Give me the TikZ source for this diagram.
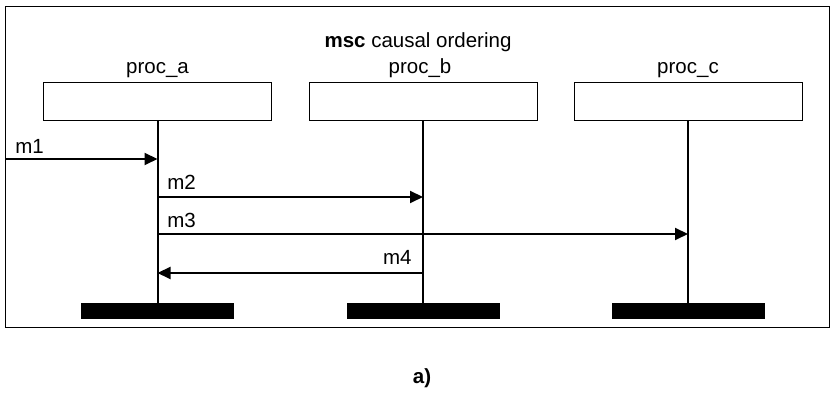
\documentclass[tikz,border=0pt]{standalone}
\usepackage{fontspec}
\setmainfont{Liberation Sans}
\usetikzlibrary{arrows.meta}

\tikzset{
	inst/.style={draw, line width=0.5pt, minimum width=114pt, minimum height=19pt, inner sep=0pt},
	endbar/.style={fill=black, minimum width=76.5pt, minimum height=8pt, inner sep=0pt},
	life/.style={line width=1pt},
	msg/.style={line width=1pt, -{Triangle[length=6.5pt,width=6pt]}},
	lbl/.style={inner sep=0pt}
}

\begin{document}
\begin{tikzpicture}[x=0.5pt, y=-0.5pt, font=\fontsize{10.25}{12}\selectfont]
	\useasboundingbox (0,0) rectangle (831,394);

		% frame
		\draw[line width=0.5pt] (5,7) rectangle (829,328);
		\node[lbl, anchor=base] (title) at (418,48) {\textbf{msc} causal ordering};

		% instances
		\node[inst] (pa) at (157.5,102) {};
		\node[inst] (pb) at (423,102) {};
		\node[inst] (pc) at (688,102) {};
		\node[lbl, anchor=base] (na) at (157.5,74) {proc\_a};
		\node[lbl, anchor=base] (nb) at (420,74) {proc\_b};
		\node[lbl, anchor=base] (nc) at (688,74) {proc\_c};

		% end bars
		\node[endbar] (ea) at (157.5,311) {};
		\node[endbar] (eb) at (423,311) {};
		\node[endbar] (ec) at (688,311) {};

		% lifelines
		\draw[life] (pa.south) -- (ea.north);
		\draw[life] (pb.south) -- (eb.north);
		\draw[life] (pc.south) -- (ec.north);

		% messages
		\coordinate (env) at (5,159);
		\coordinate (y2) at (0,197);
		\coordinate (y3) at (0,234);
		\coordinate (y4) at (0,273);
		\draw[msg] (env) -- (pa.south |- env);
		\draw[msg] (pa.south |- y2) -- (pb.south |- y2);
		\draw[msg] (pa.south |- y3) -- (pc.south |- y3);
		\draw[msg] (pb.south |- y4) -- (pa.south |- y4);

		% labels
		\node[lbl, anchor=base west] (l1) at (15,154) {m1};
		\node[lbl, anchor=base west] (l2) at (167,190) {m2};
		\node[lbl, anchor=base west] (l3) at (167,228) {m3};
		\node[lbl, anchor=base east] (l4) at (412,265) {m4};

		\node (cap) at (422,378) {\textbf{a)}};

\end{tikzpicture}
\end{document}
